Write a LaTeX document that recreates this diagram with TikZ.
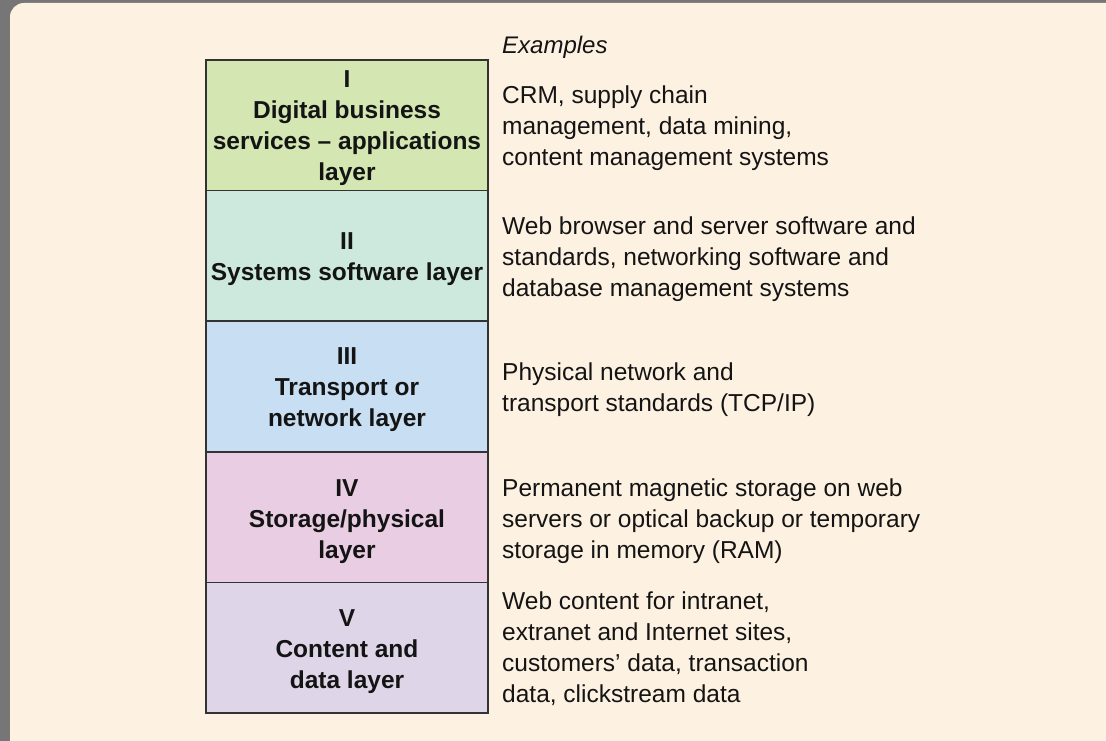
\documentclass[tikz,border=0pt]{standalone}
\usepackage{fontspec}
\setmainfont{Liberation Sans}
\definecolor{frame}{HTML}{767676}
\definecolor{cream}{HTML}{FDF1E2}
\definecolor{lgreen}{HTML}{D4E6B2}
\definecolor{lteal}{HTML}{CDE8DD}
\definecolor{lblue}{HTML}{C8DFF3}
\definecolor{lpink}{HTML}{E9CDE3}
\definecolor{llav}{HTML}{DED6E8}
\definecolor{ink}{HTML}{141414}
\definecolor{edge}{HTML}{333333}
\begin{document}
\begin{tikzpicture}[x=1pt,y=1pt,
  layerbox/.style={draw=edge, line width=1.5pt, rectangle, inner sep=0pt, outer sep=0pt,
    minimum width=282pt, minimum height=130.6pt},
  layertext/.style={inner sep=0pt, align=center,
    font=\bfseries\fontsize{24.5pt}{31pt}\selectfont, text=ink},
  extext/.style={anchor=west, inner sep=0pt, align=left,
    font=\fontsize{24.5pt}{31pt}\selectfont, text=ink}]
\useasboundingbox (0,0) rectangle (1106,-741);
\fill[frame] (0,0) rectangle (1106,-741);
\fill[cream, rounded corners=14pt] (10,-3) rectangle (1140,-760);
\fill[cream] (600,-3) rectangle (1106,-741);
\node[layerbox, fill=lgreen, anchor=north west] (layer1) at (206,-60) {};
\node[layerbox, fill=lteal, anchor=north] (layer2) at (layer1.south) {};
\node[layerbox, fill=lblue, anchor=north] (layer3) at (layer2.south) {};
\node[layerbox, fill=lpink, anchor=north] (layer4) at (layer3.south) {};
\node[layerbox, fill=llav, anchor=north] (layer5) at (layer4.south) {};
\node[layertext] (t1) at ([yshift=-2.5pt]layer1.center) {I\\Digital business\\services -- applications\\layer};
\node[layertext] (t2) at ([yshift=-3pt]layer2.center) {II\\Systems software layer};
\node[layertext] (t3) at ([yshift=-3.5pt]layer3.center) {III\\Transport or\\network layer};
\node[layertext] (t4) at ([yshift=-4.5pt]layer4.center) {IV\\Storage/physical\\layer};
\node[layertext] (t5) at ([yshift=-3.5pt]layer5.center) {V\\Content and\\data layer};
\node[extext, font=\itshape\fontsize{24pt}{31pt}\selectfont] (examples) at (502,-47) {Examples};
\node[extext] (ex1) at (502,-128.5) {CRM, supply chain\\management, data mining,\\content management systems};
\node[extext] (ex2) at (502,-259.5) {Web browser and server software and\\standards, networking software and\\database management systems};
\node[extext] (ex3) at (502,-390) {Physical network and\\transport standards (TCP/IP)};
\node[extext] (ex4) at (502,-521) {Permanent magnetic storage on web\\servers or optical backup or temporary\\storage in memory (RAM)};
\node[extext] (ex5) at (502,-649) {Web content for intranet,\\extranet and Internet sites,\\customers’ data, transaction\\data, clickstream data};
\end{tikzpicture}
\end{document}
